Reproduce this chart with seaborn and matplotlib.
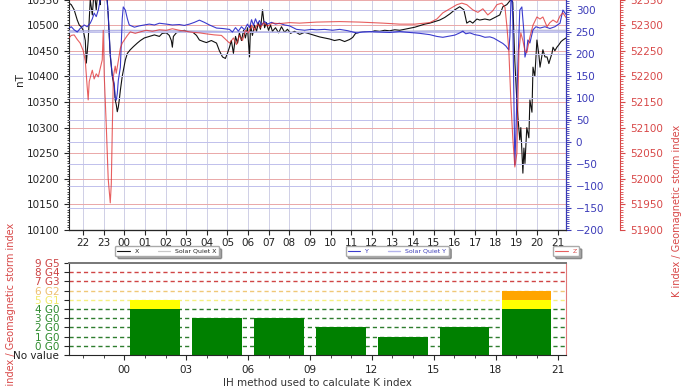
import matplotlib
matplotlib.use("Agg")
import matplotlib.pyplot as plt
import seaborn as sns
from matplotlib.ticker import MultipleLocator, AutoMinorLocator

sns.set_style("ticks")
plt.rcParams['font.family'] = ['DejaVu Sans']
plt.rcParams['axes.linewidth'] = 0.8

# ---------------- data (hours relative to 00 UT of the day) ----------------
X_TIME = [-2.68, -2.57, -2.43, -2.28, -2.18, -2.09, -1.99, -1.89, -1.84, -1.75,
          -1.65, -1.55, -1.46, -1.36, -1.26, -1.17, -1.07, -0.97, -0.87, -0.78,
          -0.68, -0.58, -0.49, -0.44, -0.39, -0.34, -0.29, -0.24, -0.19, -0.10,
          0.05, 0.15, 0.29, 0.44, 0.63, 0.78, 0.97, 1.21, 1.46, 1.70,
          1.84, 2.04, 2.18, 2.28, 2.33, 2.38, 2.52, 2.67, 2.91, 3.16,
          3.30, 3.50, 3.64, 3.83, 3.98, 4.22, 4.47, 4.61, 4.76, 4.90,
          5.00, 5.10, 5.19, 5.29, 5.39, 5.49, 5.58, 5.68, 5.78, 5.87,
          5.97, 6.07, 6.12, 6.21, 6.31, 6.41, 6.50, 6.60, 6.70, 6.80,
          6.89, 6.99, 7.09, 7.18, 7.33, 7.48, 7.62, 7.77, 7.91, 8.06,
          8.25, 8.50, 8.74, 8.98, 9.22, 9.47, 9.71, 9.95, 10.19, 10.44,
          10.68, 10.92, 11.07, 11.21, 11.41, 11.65, 11.89, 12.14, 12.38, 12.62,
          12.86, 13.11, 13.35, 13.59, 13.83, 14.08, 14.32, 14.56, 14.81, 15.05,
          15.29, 15.53, 15.78, 16.02, 16.26, 16.46, 16.60, 16.75, 16.89, 17.09,
          17.23, 17.48, 17.72, 17.96, 18.20, 18.35, 18.54, 18.74, 18.83, 18.93,
          19.03, 19.08, 19.17, 19.22, 19.32, 19.37, 19.42, 19.51, 19.61, 19.66,
          19.76, 19.81, 19.90, 20.00, 20.10, 20.15, 20.24, 20.29, 20.39, 20.49,
          20.58, 20.63, 20.73, 20.78, 20.87, 20.97, 21.07, 21.17, 21.26, 21.41]
X_NT = [10543, 10540, 10530, 10510, 10500, 10497, 10490, 10470, 10426, 10470,
        10550, 10520, 10570, 10530, 10580, 10540, 10590, 10560, 10575, 10520,
        10440, 10400, 10380, 10354, 10345, 10331, 10340, 10355, 10373, 10400,
        10432, 10445, 10452, 10458, 10465, 10470, 10475, 10478, 10481, 10478,
        10484, 10485, 10480, 10470, 10457, 10478, 10485, 10487, 10490, 10486,
        10487, 10480, 10471, 10468, 10466, 10470, 10465, 10450, 10438, 10435,
        10445, 10457, 10470, 10445, 10478, 10465, 10485, 10470, 10490, 10475,
        10495, 10438, 10500, 10480, 10500, 10488, 10505, 10492, 10530, 10495,
        10505, 10490, 10500, 10488, 10495, 10485, 10497, 10486, 10492, 10484,
        10488, 10482, 10486, 10483, 10480, 10477, 10475, 10473, 10470, 10472,
        10468, 10472, 10476, 10484, 10486, 10487, 10486, 10489, 10488, 10490,
        10489, 10491, 10490, 10492, 10494, 10496, 10499, 10502, 10504, 10507,
        10510, 10515, 10522, 10530, 10536, 10530, 10504, 10508, 10504, 10512,
        10510, 10512, 10510, 10515, 10520, 10536, 10540, 10550, 10545, 10430,
        10350, 10320, 10276, 10300, 10211, 10260, 10230, 10300, 10280, 10354,
        10330, 10418, 10400, 10471, 10440, 10418, 10440, 10452, 10438, 10438,
        10425, 10432, 10445, 10457, 10450, 10457, 10462, 10468, 10471, 10475]

Y_TIME = [-2.68, -2.57, -2.43, -2.28, -2.14, -1.94, -1.80, -1.65, -1.55, -1.46,
          -1.36, -1.26, -1.17, -1.07, -0.97, -0.87, -0.78, -0.68, -0.58, -0.49,
          -0.44, -0.39, -0.34, -0.29, -0.19, -0.10, -0.05, 0.05, 0.15, 0.24,
          0.49, 0.73, 0.97, 1.21, 1.46, 1.70, 2.04, 2.33, 2.67, 2.91,
          3.16, 3.40, 3.64, 3.88, 4.13, 4.47, 4.76, 5.10, 5.24, 5.39,
          5.53, 5.68, 5.83, 5.97, 6.07, 6.17, 6.26, 6.36, 6.46, 6.55,
          6.65, 6.80, 6.94, 7.14, 7.33, 7.52, 7.77, 8.01, 8.35, 8.74,
          9.08, 9.32, 9.71, 10.10, 10.44, 10.83, 11.26, 11.55, 11.89, 12.38,
          12.86, 13.35, 13.83, 14.32, 14.81, 15.15, 15.44, 15.78, 16.02, 16.26,
          16.41, 16.55, 16.75, 16.99, 17.23, 17.48, 17.72, 17.91, 18.06, 18.20,
          18.35, 18.50, 18.64, 18.69, 18.74, 18.79, 18.83, 18.88, 18.93, 18.98,
          19.03, 19.08, 19.13, 19.17, 19.27, 19.37, 19.42, 19.51, 19.56, 19.66,
          19.81, 19.95, 20.15, 20.39, 20.63, 20.87, 21.12, 21.26, 21.41]
Y_NT = [259, 262, 255, 250, 258, 266, 262, 270, 280, 293,
        285, 300, 323, 340, 335, 345, 290, 200, 150, 134,
        100, 95, 110, 140, 170, 280, 307, 300, 280, 266,
        261, 264, 266, 268, 266, 270, 268, 266, 267, 265,
        268, 272, 277, 272, 266, 259, 258, 256, 250, 260,
        252, 262, 255, 268, 260, 278, 265, 280, 268, 276,
        266, 274, 268, 272, 268, 270, 266, 264, 256, 254,
        256, 255, 256, 254, 256, 253, 248, 250, 251, 250,
        249, 251, 249, 247, 244, 240, 238, 241, 243, 248,
        252, 246, 248, 244, 242, 238, 239, 236, 232, 228,
        224, 218, 209, 240, 320, 330, 280, 120, -52, 20,
        100, 180, 250, 300, 307, 250, 193, 210, 232, 225,
        255, 262, 259, 262, 258, 262, 270, 300, 290]

Z_TIME = [-2.68, -2.57, -2.43, -2.28, -2.14, -1.99, -1.89, -1.80, -1.75, -1.70,
          -1.60, -1.55, -1.46, -1.36, -1.26, -1.17, -1.07, -1.02, -0.97, -0.87,
          -0.78, -0.68, -0.63, -0.58, -0.53, -0.44, -0.39, -0.29, -0.19, -0.10,
          0.00, 0.15, 0.29, 0.53, 0.78, 1.07, 1.36, 1.70, 2.04, 2.33,
          2.67, 3.01, 3.30, 3.64, 3.98, 4.37, 4.71, 5.10, 5.29, 5.44,
          5.58, 5.73, 5.87, 6.02, 6.17, 6.31, 6.46, 6.60, 6.75, 6.94,
          7.18, 7.52, 8.01, 8.50, 9.32, 10.44, 11.41, 12.52, 13.35, 14.08,
          14.81, 15.15, 15.44, 15.78, 16.12, 16.36, 16.60, 16.89, 17.14, 17.38,
          17.62, 17.86, 18.06, 18.30, 18.45, 18.54, 18.64, 18.74, 18.83, 18.93,
          19.03, 19.08, 19.13, 19.22, 19.32, 19.42, 19.51, 19.66, 19.81, 20.00,
          20.15, 20.29, 20.49, 20.63, 20.78, 20.97, 21.12, 21.26, 21.41]
Z_NT = [52275, 52280, 52281, 52272, 52265, 52250, 52230, 52180, 52154, 52190,
        52205, 52212, 52195, 52205, 52199, 52215, 52232, 52290, 52200, 52100,
        52000, 51953, 51990, 52100, 52200, 52220, 52206, 52230, 52255, 52265,
        52271, 52280, 52287, 52284, 52287, 52290, 52288, 52291, 52290, 52293,
        52290, 52288, 52286, 52285, 52283, 52281, 52280, 52265, 52275, 52262,
        52280, 52270, 52290, 52285, 52300, 52290, 52302, 52295, 52305, 52298,
        52304, 52303, 52305, 52304, 52306, 52307, 52306, 52304, 52302, 52302,
        52305, 52312, 52324, 52332, 52340, 52343, 52340, 52330, 52325, 52332,
        52320, 52328, 52340, 52343, 52335, 52300, 52250, 52150, 52080, 52023,
        52050, 52150, 52250, 52285, 52270, 52250, 52246, 52277, 52300, 52316,
        52312, 52316, 52297, 52305, 52310, 52305, 52318, 52324, 52315]

SQ_TIME = [-2.68, 0, 3, 6, 9, 12, 15, 18, 21.41]
SQ_X = [10489, 10490, 10489, 10487, 10486, 10487, 10489, 10490, 10490]
SQ_Y = [252, 253, 252, 250, 249, 250, 252, 253, 252]

HOUR_TICKS = list(range(-2, 22))
HOUR_LABELS = [f"{h % 24:02d}" for h in HOUR_TICKS]
K_TICKS = list(range(0, 22, 3))
K_TICK_LABELS_X = [f"{h:02d}" for h in K_TICKS]

K_BIN_CENTER = [1.5, 4.5, 7.5, 10.5, 13.5, 16.5, 19.5]
K_VALUE = [5, 3, 3, 2, 1, 2, 6]
K_LEVEL_LABELS = ["No value", "0 G0", "1 G0", "2 G0", "3 G0", "4 G0",
                  "5 G1", "6 G2", "7 G3", "8 G4", "9 G5"]
K_LEVEL_COLORS = ["#222222", "#2e8b2e", "#2e8b2e", "#2e8b2e", "#2e8b2e", "#2e8b2e",
                  "#f2ea6a", "#eec070", "#cc4444", "#cc4444", "#cc4444"]
K_LINE_LEVELS = [0, 1, 2, 3, 4, 5, 6, 7, 8]
K_LINE_COLORS = ["#2e7d2e", "#2e7d2e", "#2e7d2e", "#2e7d2e", "#2e7d2e",
                 "#f5ef80", "#f0c878", "#d04545", "#d04545"]

XMIN, XMAX = -2.68, 21.41
W, H = 690, 388

RED = "#d84848"
BLUE = "#3a3ab8"

fig = plt.figure(figsize=(6.9, 3.88), dpi=100)

# ---------------- top magnetometer panel ----------------
ax = fig.add_axes([69 / W, 1 - 230 / H, 497 / W, 233 / H])
ax2 = ax.twinx()
ax3 = ax.twinx()
ax3.spines['right'].set_position(('outward', 39))

sns.lineplot(x=SQ_TIME, y=SQ_X, ax=ax, color="#c8c8c8", linewidth=0.9,
             estimator=None, sort=False)
l_sqx = ax.lines[-1]
sns.lineplot(x=X_TIME, y=X_NT, ax=ax, color="#111111", linewidth=0.8,
             estimator=None, sort=False)
l_x = ax.lines[-1]

sns.lineplot(x=SQ_TIME, y=SQ_Y, ax=ax2, color="#b4b4ec", linewidth=1.0,
             estimator=None, sort=False)
l_sqy = ax2.lines[-1]
sns.lineplot(x=Y_TIME, y=Y_NT, ax=ax2, color="#2626c8", linewidth=0.8,
             alpha=0.9, estimator=None, sort=False)
l_y = ax2.lines[-1]

sns.lineplot(x=Z_TIME, y=Z_NT, ax=ax3, color="#e02a2a", linewidth=0.8,
             alpha=0.75, estimator=None, sort=False)
l_z = ax3.lines[-1]

ax.set_xlim(XMIN, XMAX)
ax.set_ylim(10100, 10555)
ax2.set_ylim(-200, 329.6)
ax3.set_ylim(51900, 52355)

ax.set_xticks(HOUR_TICKS)
ax.set_xticklabels(HOUR_LABELS)
for a in (ax, ax2, ax3):
    a.yaxis.set_major_locator(MultipleLocator(50))
    a.yaxis.set_minor_locator(AutoMinorLocator(10))

ax.grid(axis='x', color="#cfcfe6", linewidth=0.7)
ax.grid(axis='y', color="#eaa8a8", linewidth=0.7)
ax2.grid(axis='y', color="#c0c0ec", linewidth=0.7)
for a in (ax, ax2, ax3):
    a.set_axisbelow(True)
    a.set_xlabel("")
    a.set_ylabel("")
    if a.get_legend() is not None:
        a.get_legend().remove()

ax.tick_params(axis='both', which='major', labelsize=7.5, length=3.5,
               width=0.8, labelcolor="#222222")
ax.tick_params(axis='x', which='major', pad=2.5)
ax.tick_params(axis='y', which='minor', length=1.8, width=0.6)
ax2.tick_params(axis='y', which='major', labelsize=7.5, length=3.5,
                colors=BLUE)
ax2.tick_params(axis='y', which='minor', length=1.8, width=0.6, colors=BLUE)
ax3.tick_params(axis='y', which='major', labelsize=7.5, length=3.5,
                colors=RED)
ax3.tick_params(axis='y', which='minor', length=1.8, width=0.6, colors=RED)
ax2.spines['right'].set_color(BLUE)
ax3.spines['right'].set_color(RED)
for a in (ax2, ax3):
    a.spines['left'].set_visible(False)

fig.text(20 / W, 1 - 80 / H, "nT", rotation=90, fontsize=7.5,
         ha='center', va='center', color="#222222")

leg_kw = dict(loc='center', fontsize=4.5, frameon=True, fancybox=True,
              shadow=True, edgecolor="#aaaaaa", handlelength=2.0,
              borderpad=0.35, columnspacing=3.0, handletextpad=0.8)
fig.legend(handles=[l_x, l_sqx], labels=["X", "Solar Quiet X"], ncol=2,
           bbox_to_anchor=(167 / W, 1 - 251 / H), labelcolor="#222222", **leg_kw)
fig.legend(handles=[l_y, l_sqy], labels=["Y", "Solar Quiet Y"], ncol=2,
           bbox_to_anchor=(397 / W, 1 - 251 / H), labelcolor=BLUE, **leg_kw)
fig.legend(handles=[l_z], labels=["Z"], ncol=1,
           bbox_to_anchor=(566 / W, 1 - 251 / H), labelcolor=RED, **leg_kw)

# ---------------- bottom K-index panel ----------------
axk = fig.add_axes([69 / W, 1 - 355 / H, 497 / W, 92 / H])
for lvl, col in zip(K_LINE_LEVELS, K_LINE_COLORS):
    axk.axhline(lvl + 1, color=col, linestyle=(0, (3, 2.2)), linewidth=1.0,
                zorder=0)

green_top = [min(k, 4) + 1 for k in K_VALUE]
yellow_top = [min(k, 5) + 1 if k >= 5 else 0 for k in K_VALUE]
orange_top = [min(k, 6) + 1 if k >= 6 else 0 for k in K_VALUE]
for tops, col in [(orange_top, "#ffa500"), (yellow_top, "#ffff00"),
                  (green_top, "#008000")]:
    sns.barplot(x=K_BIN_CENTER, y=tops, native_scale=True, width=0.8,
                color=col, saturation=1, errorbar=None, linewidth=0,
                orient='x', ax=axk, zorder=2)

axk.set_xlim(XMIN, XMAX)
axk.set_ylim(0, 10)
axk.set_xticks(K_TICKS)
axk.set_xticklabels(K_TICK_LABELS_X)
axk.set_xticks(HOUR_TICKS, minor=True)
axk.set_yticks(range(len(K_LEVEL_LABELS)))
axk.set_yticklabels(K_LEVEL_LABELS)
for lab, col in zip(axk.get_yticklabels(), K_LEVEL_COLORS):
    lab.set_color(col)
axk.tick_params(axis='both', which='major', labelsize=7.5, length=3.5, width=0.8)
axk.tick_params(axis='x', which='major', labelcolor="#222222")
axk.tick_params(axis='x', which='minor', length=2, width=0.6)
axk.spines['right'].set_color("#e07a7a")
axk.spines['top'].set_color("#777777")
axk.spines['top'].set_linewidth(1.4)
axk.set_ylabel("")
axk.set_xlabel("IH method used to calculate K index", fontsize=7.5,
               color="#333333", labelpad=2)

fig.text(11 / W, 1 - 309 / H, "K index / Geomagnetic storm index",
         rotation=90, fontsize=7, color=RED, ha='center', va='center')
fig.text(677 / W, 1 - 211 / H, "K index / Geomagnetic storm index",
         rotation=90, fontsize=7, color=RED, ha='center', va='center')

fig.savefig("out.png", dpi=100)
